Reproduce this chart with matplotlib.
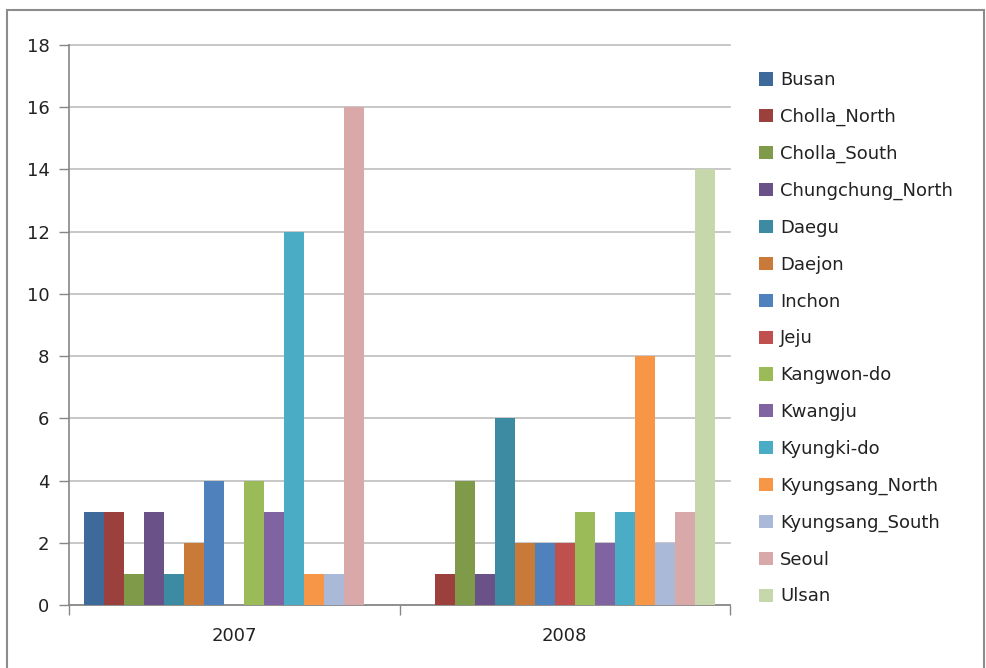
import matplotlib
matplotlib.use("Agg")
import matplotlib.pyplot as plt
import numpy as np
from matplotlib.patches import Rectangle

years = ["2007", "2008"]
regions = ["Busan", "Cholla_North", "Cholla_South", "Chungchung_North", "Daegu",
           "Daejon", "Inchon", "Jeju", "Kangwon-do", "Kwangju", "Kyungki-do",
           "Kyungsang_North", "Kyungsang_South", "Seoul", "Ulsan"]
counts_2007 = [3, 3, 1, 3, 1, 2, 4, 0, 4, 3, 12, 1, 1, 16, 0]
counts_2008 = [0, 1, 4, 1, 6, 2, 2, 2, 3, 2, 3, 8, 2, 3, 14]
colors = ["#3D6A9B", "#9C403D", "#7F9A48", "#6A5187", "#3C8BA3",
          "#CA7A38", "#4F81BD", "#C0504D", "#9BBB59", "#8064A2",
          "#4BACC6", "#F79646", "#AAB9D7", "#D9A9A9", "#C6D7AB"]

W, H = 987, 668
fig = plt.figure(figsize=(W / 100, H / 100), dpi=100)
fig.patch.set_facecolor("white")

# outer chart border (grey frame, bottom edge runs off the image)
fig.patches.append(Rectangle((7 / W, -0.05), (984 - 7) / W, 1.05 - 10 / H,
                             transform=fig.transFigure, fill=False,
                             edgecolor="#8C8C8C", linewidth=1.5))

ax = fig.add_axes([69 / W, 1 - 605 / H, (730 - 69) / W, (605 - 45) / H])

x = np.arange(len(years))
bw = 20 / 331
n = len(regions)
for i, name in enumerate(regions):
    vals = [counts_2007[i], counts_2008[i]]
    ax.bar(x + (i - (n - 1) / 2) * bw, vals, width=bw, color=colors[i],
           label=name, linewidth=0, zorder=3)

ax.set_xlim(-0.5, 1.5)
ax.set_ylim(0, 18)
ax.set_yticks(np.arange(0, 19, 2))
ax.grid(axis="y", color="#BEBEBE", linewidth=1.2, zorder=0)
for gl in ax.get_ygridlines():
    gl.set_clip_on(False)

ax.set_xticks(x)
ax.set_xticklabels(years)
ax.set_xticks([-0.5, 0.5, 1.5], minor=True)
ax.tick_params(axis="x", which="major", length=0, pad=16, labelsize=13, labelcolor="#222222")
ax.tick_params(axis="x", which="minor", length=7, width=1, color="#868686")
ax.tick_params(axis="y", length=7, width=1, color="#868686", pad=7,
               labelsize=13, labelcolor="#222222")

for s in ["top", "right"]:
    ax.spines[s].set_visible(False)
for s in ["left", "bottom"]:
    ax.spines[s].set_color("#868686")
    ax.spines[s].set_linewidth(1.2)

ax.legend(loc="upper left", bbox_to_anchor=(752 / W, 1 - 64 / H),
          bbox_transform=fig.transFigure, frameon=False, fontsize=13,
          handlelength=0.75, handleheight=0.75, handletextpad=0.4,
          labelspacing=1.04, borderaxespad=0, labelcolor="#222222")

fig.savefig("out.png", dpi=100)
